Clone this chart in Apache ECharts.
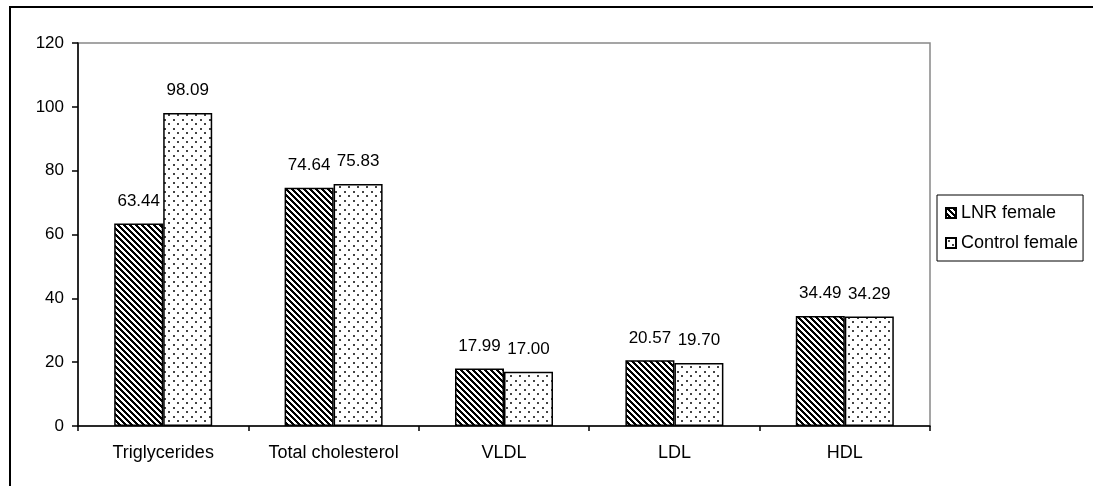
<!DOCTYPE html>
<html>
<head>
<meta charset="utf-8">
<script src="https://cdn.jsdelivr.net/npm/echarts@6/dist/echarts.min.js"></script>
<style>
html,body{margin:0;padding:0;background:#fff;}
#chart{width:1093px;height:486px;}
</style>
</head>
<body>
<div id="chart"></div>
<script>
const categories = ['Triglycerides', 'Total cholesterol', 'VLDL', 'LDL', 'HDL'];
const seriesNames = ['LNR female', 'Control female'];
const lnrFemale = [63.44, 74.64, 17.99, 20.57, 34.49];
const controlFemale = [98.09, 75.83, 17.00, 19.70, 34.29];
const yTicks = [0, 20, 40, 60, 80, 100, 120];

function stripePattern() {
  const n = 6;
  const c = document.createElement('canvas');
  c.width = n; c.height = n;
  const ctx = c.getContext('2d');
  ctx.fillStyle = '#fff';
  ctx.fillRect(0, 0, n, n);
  ctx.fillStyle = '#000';
  for (let y = 0; y < n; y++) {
    for (let x = 0; x < n; x++) {
      if (((x - y) % n + n) % n < 3) ctx.fillRect(x, y, 1, 1);
    }
  }
  return c;
}
function dotPattern() {
  const c = document.createElement('canvas');
  c.width = 9; c.height = 9;
  const ctx = c.getContext('2d');
  ctx.fillStyle = '#fff';
  ctx.fillRect(0, 0, 9, 9);
  ctx.fillStyle = '#444';
  ctx.fillRect(2, 2, 2, 2);
  ctx.fillRect(6, 6, 2, 2);
  return c;
}
const stripeFill = { image: stripePattern(), repeat: 'repeat' };
const dotFill = { image: dotPattern(), repeat: 'repeat' };

const font = 'Liberation Sans, Arial, sans-serif';
const chart = echarts.init(document.getElementById('chart'), null, { renderer: 'canvas' });
const labelCfg = {
  show: true,
  position: 'top',
  distance: 14,
  color: '#000',
  fontSize: 17,
  fontFamily: font,
  formatter: p => p.value.toFixed(2)
};
chart.setOption({
  animation: false,
  backgroundColor: '#fff',
  textStyle: { fontFamily: font },
  graphic: [{
    type: 'rect',
    shape: { x: 10, y: 7, width: 1100, height: 500 },
    style: { fill: 'none', stroke: '#000', lineWidth: 2 },
    silent: true
  }],
  grid: {
    left: 78, right: 163, top: 43, bottom: 60,
    show: true, borderColor: '#888', borderWidth: 1.5, backgroundColor: 'transparent'
  },
  legend: {
    orient: 'vertical',
    left: 937, top: 195,
    padding: [9, 5, 9, 8],
    itemGap: 12,
    itemWidth: 10, itemHeight: 10,
    borderColor: '#000', borderWidth: 1,
    icon: 'rect',
    data: seriesNames,
    textStyle: { fontSize: 18, color: '#000', fontFamily: font }
  },
  xAxis: {
    type: 'category',
    data: categories,
    axisLine: { lineStyle: { color: '#000', width: 1.5 } },
    axisTick: { show: true, length: 5, alignWithLabel: false, lineStyle: { color: '#000', width: 1.5 } },
    axisLabel: { color: '#000', fontSize: 18, fontFamily: font, margin: 18 },
    splitLine: { show: false }
  },
  yAxis: {
    type: 'value',
    min: yTicks[0], max: yTicks[yTicks.length - 1], interval: 20,
    axisLine: { show: true, lineStyle: { color: '#000', width: 1.5 } },
    axisTick: { show: true, length: 6, lineStyle: { color: '#000', width: 1.5 } },
    axisLabel: { color: '#000', fontSize: 17, fontFamily: font, margin: 14 },
    splitLine: { show: false }
  },
  series: [
    {
      name: seriesNames[0], type: 'bar', data: lnrFemale,
      barWidth: 49, barGap: '0%',
      itemStyle: { color: stripeFill, borderColor: '#000', borderWidth: 1.5 },
      label: labelCfg
    },
    {
      name: seriesNames[1], type: 'bar', data: controlFemale,
      barWidth: 49, barGap: '0%',
      itemStyle: { color: dotFill, borderColor: '#000', borderWidth: 1.5 },
      label: labelCfg
    }
  ]
});
</script>
</body>
</html>
